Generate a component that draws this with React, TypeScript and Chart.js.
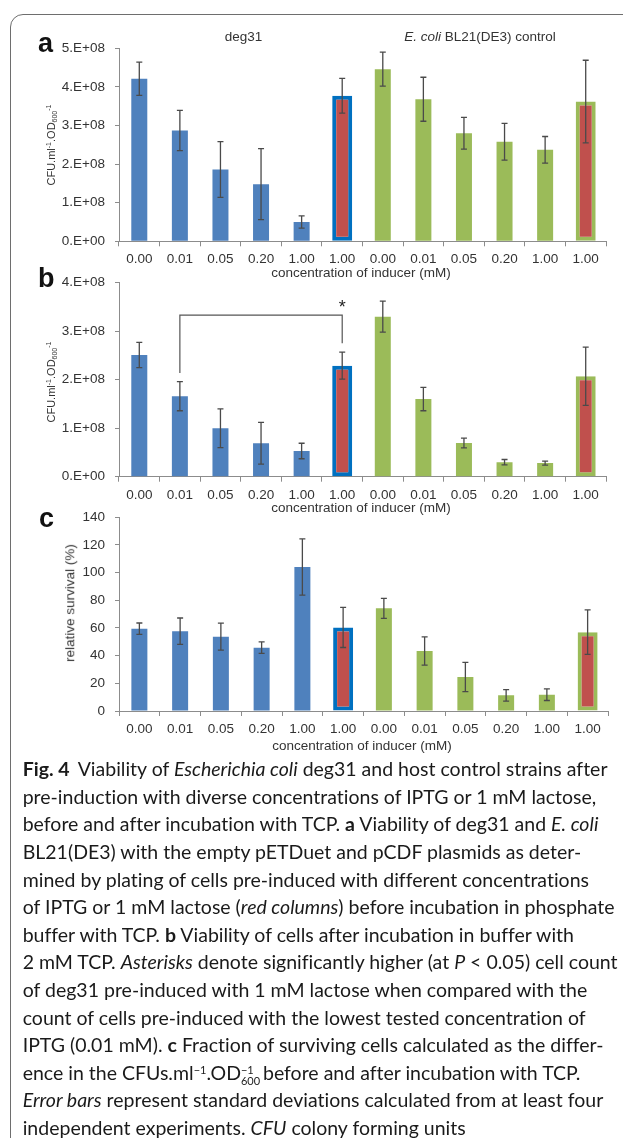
import React, { useEffect, useRef } from "react";
import { Chart, registerables } from "chart.js";

Chart.register(...registerables);
Chart.defaults.font.family = "'Liberation Sans', Arial, sans-serif";
Chart.defaults.color = "#333";

// ---------- data ----------
const categories = ["0.00", "0.01", "0.05", "0.20", "1.00", "1.00", "0.00", "0.01", "0.05", "0.20", "1.00", "1.00"];
const deg31Count = 6; // first six columns: deg31, last six: E. coli BL21(DE3) control
const lactoseIdx = [5, 11]; // red columns (1 mM lactose)

const cfuBefore = [4.21e8, 2.87e8, 1.86e8, 1.48e8, 0.5e8, 3.77e8, 4.46e8, 3.68e8, 2.8e8, 2.58e8, 2.37e8, 3.62e8];
const cfuBeforeSD = [0.43e8, 0.52e8, 0.72e8, 0.92e8, 0.16e8, 0.45e8, 0.44e8, 0.57e8, 0.41e8, 0.475e8, 0.345e8, 1.07e8];

const cfuAfter = [2.51e8, 1.66e8, 1.0e8, 0.69e8, 0.53e8, 2.29e8, 3.3e8, 1.6e8, 0.695e8, 0.3e8, 0.28e8, 2.07e8];
const cfuAfterSD = [0.26e8, 0.3e8, 0.4e8, 0.43e8, 0.16e8, 0.28e8, 0.32e8, 0.24e8, 0.1e8, 0.055e8, 0.04e8, 0.6e8];

const survival = [59.5, 57.7, 53.7, 45.8, 104.1, 60.4, 74.2, 43.4, 24.6, 11.3, 11.8, 57.0];
const survivalSD = [4.1, 9.5, 9.75, 4.1, 20.3, 14.5, 7.2, 10.2, 10.6, 4.2, 4.2, 16.1];

// significance bracket in panel b (0.01 mM IPTG vs 1 mM lactose, deg31)
const bracketIdx = [1, 5];
const bracketLevels = [2.14e8, 3.33e8, 2.75e8]; // left foot, top, right foot
const asteriskLevel = 3.37e8;

// ---------- style ----------
const BLUE = "#4F81BD";
const GREEN = "#9BBB59";
const RED = "#C0504D";
const OUTLINE_BLUE = "#0070C0";
const AXIS = "#8c8c8c";
const TEXT = "#333";

function sciFmt(v: number) {
  if (v === 0) return "0.E+00";
  const e = Math.floor(Math.log10(v) + 1e-9);
  const m = Math.round(v / Math.pow(10, e));
  return `${m}.E+${String(e).padStart(2, "0")}`;
}

type PanelSpec = {
  means: number[];
  sds: number[];
  max: number;
  step: number;
  fmt: (v: number) => string;
  canvasTop: number;
  canvasH: number;
  plotTop: number;
  plotBottom: number;
  plotRight: number;
  bracket?: boolean;
};

const X_AXIS_H = 30;

function makeConfig(p: PanelSpec): any {
  const catW = (p.plotRight - 119) / categories.length;
  const mainData = p.means.map((v, i) => (lactoseIdx.includes(i) ? null : v));
  const hiData = p.means.map((v, i) => (lactoseIdx.includes(i) ? v : null));
  const padTop = p.plotTop - p.canvasTop;
  const padBottom = p.canvasH - (p.plotBottom - p.canvasTop) - X_AXIS_H;

  const errorBars = {
    id: "errorBars",
    afterDatasetsDraw(chart: any) {
      const { ctx } = chart;
      const x = chart.scales.x;
      const y = chart.scales.y;
      ctx.save();
      ctx.strokeStyle = "#4a4a4a";
      ctx.lineWidth = 1.3;
      p.means.forEach((m, i) => {
        const px = x.getPixelForValue(i);
        const t = y.getPixelForValue(m + p.sds[i]);
        const b = y.getPixelForValue(m - p.sds[i]);
        ctx.beginPath();
        ctx.moveTo(px, t);
        ctx.lineTo(px, b);
        ctx.moveTo(px - 3, t);
        ctx.lineTo(px + 3, t);
        ctx.moveTo(px - 3, b);
        ctx.lineTo(px + 3, b);
        ctx.stroke();
      });
      if (p.bracket) {
        const x1 = x.getPixelForValue(bracketIdx[0]);
        const x2 = x.getPixelForValue(bracketIdx[1]);
        ctx.lineWidth = 1.2;
        ctx.strokeStyle = "#555";
        ctx.beginPath();
        ctx.moveTo(x1, y.getPixelForValue(bracketLevels[0]));
        ctx.lineTo(x1, y.getPixelForValue(bracketLevels[1]));
        ctx.lineTo(x2, y.getPixelForValue(bracketLevels[1]));
        ctx.lineTo(x2, y.getPixelForValue(bracketLevels[2]));
        ctx.stroke();
        ctx.fillStyle = "#222";
        ctx.font = "18px 'Liberation Sans', Arial, sans-serif";
        ctx.textAlign = "center";
        ctx.textBaseline = "alphabetic";
        ctx.fillText("*", x2, y.getPixelForValue(asteriskLevel));
      }
      ctx.restore();
    },
  };

  return {
    type: "bar",
    data: {
      labels: categories,
      datasets: [
        {
          data: mainData,
          backgroundColor: categories.map((_, i) => (i < deg31Count ? BLUE : GREEN)),
          borderWidth: 0,
          barPercentage: 16 / catW,
          categoryPercentage: 1,
          grouped: false,
        },
        {
          data: hiData,
          backgroundColor: RED,
          borderColor: categories.map((_, i) => (i < deg31Count ? OUTLINE_BLUE : GREEN)),
          borderWidth: 4,
          borderSkipped: false,
          barPercentage: 20 / catW,
          categoryPercentage: 1,
          grouped: false,
        },
      ],
    },
    options: {
      responsive: false,
      maintainAspectRatio: false,
      animation: false,
      events: [],
      layout: { padding: { top: padTop, right: 623 - p.plotRight, bottom: padBottom, left: 0 } },
      plugins: { legend: { display: false }, tooltip: { enabled: false }, title: { display: false } },
      scales: {
        x: {
          type: "category",
          offset: true,
          z: 1,
          grid: { offset: true, drawOnChartArea: false, drawTicks: true, tickLength: 5, color: AXIS, lineWidth: 1 },
          border: { display: true, color: AXIS, width: 1 },
          ticks: { font: { size: 13.5 }, color: TEXT, padding: 5, maxRotation: 0, autoSkip: false },
          afterFit: (s: any) => {
            s.height = X_AXIS_H;
          },
        },
        y: {
          min: 0,
          max: p.max,
          z: 1,
          grid: { drawOnChartArea: false, drawTicks: true, tickLength: 4, color: AXIS, lineWidth: 1 },
          border: { display: true, color: AXIS, width: 1 },
          ticks: { stepSize: p.step, font: { size: 13.5 }, color: TEXT, padding: 10, callback: (v: any) => p.fmt(Number(v)) },
          afterFit: (s: any) => {
            s.width = 119;
          },
        },
      },
    },
    plugins: [errorBars],
  };
}

const panels: PanelSpec[] = [
  { means: cfuBefore, sds: cfuBeforeSD, max: 5e8, step: 1e8, fmt: sciFmt, canvasTop: 0, canvasH: 290, plotTop: 48.3, plotBottom: 241.3, plotRight: 606 },
  { means: cfuAfter, sds: cfuAfterSD, max: 4e8, step: 1e8, fmt: sciFmt, canvasTop: 262, canvasH: 260, plotTop: 282.7, plotBottom: 476.7, plotRight: 606, bracket: true },
  { means: survival, sds: survivalSD, max: 140, step: 20, fmt: (v) => String(Math.round(v)), canvasTop: 497, canvasH: 260, plotTop: 517.3, plotBottom: 711, plotRight: 608 },
];

function BarPanel({ spec }: { spec: PanelSpec }) {
  const ref = useRef<HTMLCanvasElement>(null);
  useEffect(() => {
    const chart = new Chart(ref.current as HTMLCanvasElement, makeConfig(spec));
    return () => chart.destroy();
  }, [spec]);
  return (
    <canvas
      ref={ref}
      width={623}
      height={spec.canvasH}
      style={{ position: "absolute", left: 0, top: spec.canvasTop, width: 623, height: spec.canvasH }}
    />
  );
}

function Label({ x, y, children, size = 13.5, rotate = false, style = {} }: any) {
  return (
    <div
      style={{
        position: "absolute",
        left: x,
        top: y,
        transform: `translate(-50%, -50%)${rotate ? " rotate(-90deg)" : ""}`,
        whiteSpace: "nowrap",
        fontSize: size,
        lineHeight: 1,
        color: TEXT,
        ...style,
      }}
    >
      {children}
    </div>
  );
}

const supS: React.CSSProperties = { fontSize: 7, position: "relative", top: -4.5, verticalAlign: "baseline" };
const subS: React.CSSProperties = { fontSize: 7, position: "relative", top: 1.5, verticalAlign: "baseline" };

function CfuTitle() {
  return (
    <>
      CFU.ml<span style={supS}>-1</span>.OD<span style={subS}>600</span>
      <span style={supS}>-1</span>
    </>
  );
}

function PanelLetter({ x, top, ch }: any) {
  return (
    <div style={{ position: "absolute", left: x, top, fontSize: 27, fontWeight: "bold", lineHeight: "27px", color: "#111" }}>{ch}</div>
  );
}

const B = ({ c }: any) => <span style={{ fontWeight: 700 }}>{c}</span>;
const I = ({ c }: any) => <span style={{ fontStyle: "italic" }}>{c}</span>;

const capSup: React.CSSProperties = { fontSize: 11, position: "relative", top: -6 };

const captionLines: React.ReactNode[] = [
  <>
    <B c="Fig. 4" />
    <span style={{ marginLeft: 8 }}>Viability of </span>
    <I c="Escherichia coli" /> deg31 and host control strains after
  </>,
  <>pre-induction with diverse concentrations of IPTG or 1 mM lactose,</>,
  <>
    before and after incubation with TCP. <B c="a" /> Viability of deg31 and <I c="E. coli" />
  </>,
  <>BL21(DE3) with the empty pETDuet and pCDF plasmids as deter-</>,
  <>mined by plating of cells pre-induced with different concentrations</>,
  <>
    of IPTG or 1 mM lactose (<I c="red columns" />) before incubation in phosphate
  </>,
  <>
    buffer with TCP. <B c="b" /> Viability of cells after incubation in buffer with
  </>,
  <>
    2 mM TCP. <I c="Asterisks" /> denote significantly higher (at <I c="P" /> &lt; 0.05) cell count
  </>,
  <>of deg31 pre-induced with 1 mM lactose when compared with the</>,
  <>count of cells pre-induced with the lowest tested concentration of</>,
  <>
    IPTG (0.01 mM). <B c="c" /> Fraction of surviving cells calculated as the differ-
  </>,
  <>
    ence in the CFUs.ml<span style={capSup}>−1</span>.OD
    <span style={{ display: "inline-block", position: "relative", width: 17, height: 0 }}>
      <span style={{ position: "absolute", left: 0, top: -15.5, fontSize: 11, lineHeight: "11px" }}>−1</span>
      <span style={{ position: "absolute", left: 0, top: -4.5, fontSize: 11, lineHeight: "11px" }}>600</span>
    </span>{" "}
    before and after incubation with TCP.
  </>,
  <>
    <I c="Error bars" /> represent standard deviations calculated from at least four
  </>,
  <>
    independent experiments. <I c="CFU" /> colony forming units
  </>,
];

export default function App() {
  return (
    <div
      style={{
        position: "absolute",
        left: 0,
        top: 0,
        width: 623,
        height: 1138,
        background: "#fff",
        overflow: "hidden",
        fontFamily: "'Liberation Sans', Arial, sans-serif",
      }}
    >
      <div
        style={{
          position: "absolute",
          left: 10,
          top: 14,
          width: 900,
          height: 1400,
          border: "1.5px solid #6e6e6e",
          borderRadius: 13,
        }}
      />
      {panels.map((p, i) => (
        <BarPanel key={i} spec={p} />
      ))}

      <PanelLetter x={38} top={29.7} ch="a" />
      <PanelLetter x={38} top={264.5} ch="b" />
      <PanelLetter x={39} top={504.5} ch="c" />

      <Label x={243.5} y={37}>deg31</Label>
      <Label x={480} y={36.5}>
        <i>E. coli</i> BL21(DE3) control
      </Label>

      <Label x={51} y={145} size={11} rotate>
        <CfuTitle />
      </Label>
      <Label x={51} y={382} size={11} rotate>
        <CfuTitle />
      </Label>
      <Label x={70} y={603} rotate>
        relative survival (%)
      </Label>

      <Label x={361} y={273}>concentration of inducer (mM)</Label>
      <Label x={361} y={508}>concentration of inducer (mM)</Label>
      <Label x={362} y={746}>concentration of inducer (mM)</Label>

      <div
        style={{
          position: "absolute",
          left: 22.7,
          top: 755.3,
          fontFamily: "Lato, 'Open Sans', sans-serif",
          fontSize: 19.5,
          lineHeight: "27.6px",
          fontVariantLigatures: "none",
          color: "#1a1a1a",
        }}
      >
        {captionLines.map((l, i) => (
          <div key={i} style={{ whiteSpace: "nowrap", height: 27.6 }}>
            {l}
          </div>
        ))}
      </div>
    </div>
  );
}
